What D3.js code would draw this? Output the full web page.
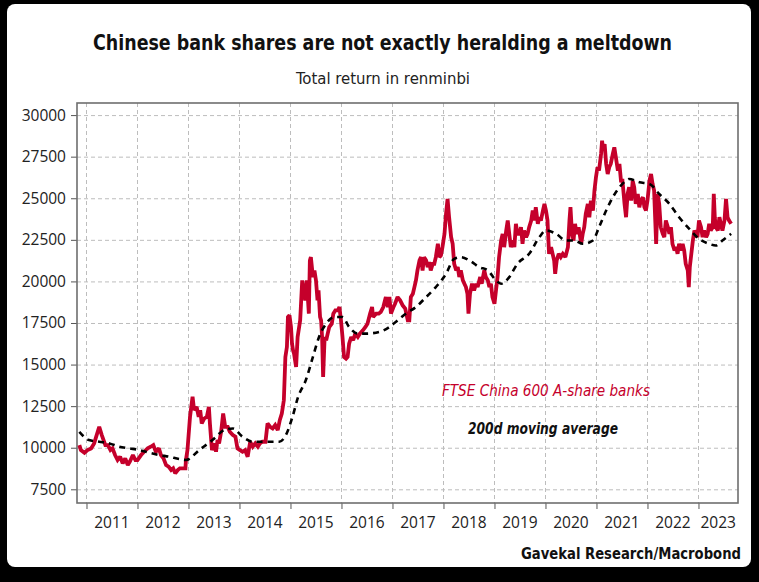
<!DOCTYPE html>
<html><head><meta charset="utf-8">
<script src="https://cdn.jsdelivr.net/npm/d3@7"></script>
<style>body{margin:0;background:#000}svg{display:block}</style>
</head><body>
<svg id="c" width="759" height="582"></svg>
<script>
// ---- data (decimal years, index values) ----
const redYears = [2010.86,2010.89,2010.96,2011.02,2011.09,2011.15,2011.25,2011.30,2011.37,2011.42,2011.47,2011.51,2011.56,2011.61,2011.66,2011.71,2011.76,2011.81,2011.85,2011.91,2011.96,2012.00,2012.07,2012.13,2012.20,2012.26,2012.31,2012.36,2012.42,2012.46,2012.51,2012.56,2012.61,2012.66,2012.70,2012.74,2012.79,2012.83,2012.89,2012.94,2012.95,2012.98,2013.03,2013.08,2013.11,2013.16,2013.20,2013.23,2013.26,2013.31,2013.36,2013.40,2013.42,2013.46,2013.51,2013.54,2013.57,2013.60,2013.64,2013.68,2013.72,2013.77,2013.81,2013.87,2013.92,2013.96,2014.01,2014.06,2014.11,2014.16,2014.21,2014.26,2014.31,2014.36,2014.40,2014.45,2014.51,2014.55,2014.60,2014.65,2014.70,2014.75,2014.79,2014.83,2014.87,2014.90,2014.93,2014.95,2014.98,2015.01,2015.03,2015.05,2015.07,2015.11,2015.14,2015.19,2015.23,2015.25,2015.29,2015.32,2015.36,2015.38,2015.40,2015.44,2015.47,2015.50,2015.53,2015.55,2015.58,2015.60,2015.62,2015.64,2015.67,2015.70,2015.73,2015.76,2015.81,2015.84,2015.88,2015.93,2015.96,2015.99,2016.02,2016.05,2016.09,2016.12,2016.15,2016.19,2016.23,2016.27,2016.32,2016.36,2016.42,2016.47,2016.51,2016.56,2016.60,2016.62,2016.68,2016.73,2016.77,2016.82,2016.87,2016.91,2016.94,2016.97,2017.02,2017.05,2017.10,2017.15,2017.20,2017.25,2017.30,2017.33,2017.36,2017.40,2017.43,2017.46,2017.49,2017.53,2017.56,2017.59,2017.62,2017.66,2017.69,2017.72,2017.75,2017.79,2017.82,2017.85,2017.89,2017.92,2017.95,2017.98,2018.02,2018.05,2018.08,2018.11,2018.15,2018.18,2018.21,2018.25,2018.28,2018.31,2018.34,2018.38,2018.41,2018.44,2018.47,2018.49,2018.52,2018.56,2018.60,2018.64,2018.67,2018.72,2018.75,2018.80,2018.83,2018.87,2018.90,2018.93,2018.96,2019.00,2019.03,2019.06,2019.09,2019.13,2019.16,2019.19,2019.23,2019.26,2019.29,2019.32,2019.36,2019.39,2019.42,2019.45,2019.49,2019.52,2019.55,2019.58,2019.62,2019.65,2019.68,2019.72,2019.75,2019.78,2019.81,2019.85,2019.88,2019.91,2019.95,2019.98,2020.01,2020.04,2020.07,2020.11,2020.14,2020.17,2020.19,2020.22,2020.26,2020.30,2020.34,2020.39,2020.44,2020.47,2020.49,2020.52,2020.55,2020.58,2020.61,2020.65,2020.70,2020.73,2020.76,2020.79,2020.83,2020.86,2020.89,2020.93,2020.96,2020.99,2021.02,2021.05,2021.09,2021.11,2021.13,2021.16,2021.19,2021.22,2021.25,2021.28,2021.32,2021.35,2021.38,2021.42,2021.45,2021.48,2021.51,2021.55,2021.58,2021.61,2021.64,2021.68,2021.71,2021.74,2021.77,2021.81,2021.84,2021.87,2021.91,2021.94,2021.97,2022.00,2022.04,2022.07,2022.10,2022.13,2022.17,2022.20,2022.23,2022.26,2022.30,2022.33,2022.36,2022.40,2022.43,2022.46,2022.49,2022.53,2022.56,2022.59,2022.62,2022.66,2022.69,2022.72,2022.75,2022.79,2022.81,2022.83,2022.86,2022.89,2022.92,2022.95,2022.98,2023.01,2023.05,2023.08,2023.11,2023.15,2023.18,2023.21,2023.24,2023.28,2023.30,2023.32,2023.34,2023.38,2023.41,2023.44,2023.47,2023.51,2023.54,2023.57,2023.60,2023.64];
const redValues = [10160,9860,9700,9860,9960,10260,11260,10760,10160,10160,9860,9960,9560,9260,9460,9060,9360,8960,9160,9560,9260,9260,9560,9760,9960,10060,10160,9760,9960,9560,9360,8960,8860,8660,8760,8460,8660,8760,8760,8760,9260,9860,11860,13060,12260,12460,11860,12260,11460,11760,11860,12460,11460,9860,10260,9760,10460,10260,10960,12060,11260,11260,10960,10760,10660,9960,9860,9760,9860,9460,10360,10060,10260,10060,10260,10360,10360,11460,11260,11160,11360,11060,11660,12060,12860,15460,16060,17860,17960,17260,16260,15860,15660,14860,16660,17660,20060,19660,18860,20060,18060,21260,21460,20260,20660,20060,18860,19460,17860,17660,16660,14260,16660,16460,16860,17260,17460,18060,18260,18260,18460,17660,16660,15460,15360,15460,16260,16660,16460,16860,16660,16860,17060,17260,17460,18060,18460,17860,18060,18060,18160,18460,19060,18460,19060,18060,18460,18660,19060,18860,18560,18360,17660,17660,19060,19260,19660,20060,20660,21260,21460,20660,21460,21260,20860,21160,20660,21060,21060,21460,22260,21460,21560,22060,22860,24060,24960,23860,22660,22260,21060,20660,20860,20260,20660,20060,19860,19660,19260,18060,19260,19860,19460,19860,19660,20260,19860,20660,20260,20060,19660,19860,19060,18660,19460,20260,21460,22460,22860,22060,23060,23660,22860,22060,22460,22060,23460,22860,22860,23260,22260,23060,22660,22860,23260,23660,24260,23660,24460,23460,23860,23660,24260,24660,24260,23660,21660,22060,21660,21260,20460,21260,21660,21460,21660,21460,22060,23660,24460,22860,22460,23460,22860,23260,22260,22860,23260,24060,24660,23860,24860,24260,25460,26260,26860,26660,27660,28460,27860,28260,27060,26460,26860,27060,27660,28060,27460,26660,27060,26060,26060,24660,23860,25260,25660,24860,26060,25660,24660,25260,24460,24860,25060,24460,24260,24860,26060,26460,25860,25460,22260,25260,24660,23260,22860,22660,23660,23260,22860,23260,22260,21860,22060,21660,22260,21860,22260,21860,21060,20660,19660,20860,21660,22460,23060,22860,22660,23660,23260,22660,23060,22660,22860,23460,23060,23260,25260,23860,23260,23060,23860,23460,23060,23660,24960,23860,23660,23460];

const maYears = [2010.86,2011.05,2011.25,2011.45,2011.64,2011.84,2012.04,2012.23,2012.43,2012.62,2012.82,2012.95,2013.21,2013.47,2013.70,2013.87,2014.06,2014.26,2014.52,2014.78,2014.91,2015.04,2015.15,2015.30,2015.44,2015.56,2015.70,2015.86,2016.02,2016.15,2016.32,2016.48,2016.74,2016.94,2017.10,2017.26,2017.46,2017.66,2017.85,2018.05,2018.21,2018.34,2018.51,2018.70,2018.87,2019.03,2019.13,2019.29,2019.45,2019.68,2019.88,2020.01,2020.21,2020.40,2020.56,2020.73,2020.93,2021.05,2021.19,2021.32,2021.45,2021.58,2021.64,2021.84,2022.04,2022.23,2022.43,2022.62,2022.82,2023.01,2023.21,2023.34,2023.47,2023.64];
const maValues = [10960,10460,10360,10260,10060,9960,9860,9700,9560,9460,9320,9260,9860,10460,11060,11160,10660,10360,10360,10360,10760,11860,13060,14060,15460,16660,17460,17860,17860,17260,16860,16860,16960,17260,17660,18060,18460,19060,19660,20460,21360,21460,21260,20860,20660,20060,19860,20260,21060,21660,22660,23060,22860,22460,22460,22260,22460,23260,24260,25060,25660,26060,26160,25960,25860,25260,24660,23860,23160,22560,22260,22160,22460,22860];

const yTicks = [7500,10000,12500,15000,17500,20000,22500,25000,27500,30000];
const yearTicks = [2011,2012,2013,2014,2015,2016,2017,2018,2019,2020,2021,2022,2023];
const yearLabels = ["2011","2012","2013","2014","2015","2016","2017","2018","2019","2020","2021","2022","2023"];
const seriesNames = ["FTSE China 600 A-share banks","200d moving average"];
const titleText = "Chinese bank shares are not exactly heralding a meltdown";
const subtitleText = "Total return in renminbi";
const sourceText = "Gavekal Research/Macrobond";

// ---- layout ----
const svg = d3.select("#c");
const W = 759, H = 582;
const L = 77, R = 738, T = 103, B = 503;
const RED = "#c5002b";
const condFont = "'Liberation Sans Narrow','DejaVu Sans Condensed','Open Sans',sans-serif";
const tickFont = "'Open Sans',sans-serif";

svg.append("rect").attr("width", W).attr("height", H).attr("fill", "#000");
svg.append("rect").attr("x", 7).attr("y", 4).attr("width", 744).attr("height", 563).attr("rx", 8).attr("fill", "#fff");

const x = d3.scaleLinear().domain([2010.814, 2023.775]).range([L, R]);
const y = d3.scaleLinear().domain([6677, 30727]).range([B, T]);

// grid
const grid = svg.append("g").attr("stroke", "#bdbdbd").attr("stroke-width", 1).attr("stroke-dasharray", "4,3");
grid.selectAll("line.h").data(yTicks).join("line").attr("class", "h")
  .attr("x1", L).attr("x2", R).attr("y1", d => y(d) + 0.5).attr("y2", d => y(d) + 0.5);
grid.selectAll("line.v").data(yearTicks).join("line").attr("class", "v")
  .attr("y1", T).attr("y2", B).attr("x1", d => Math.round(x(d)) + 0.5).attr("x2", d => Math.round(x(d)) + 0.5);

// axes
const yAxis = svg.append("g").attr("transform", `translate(${L},0)`)
  .call(d3.axisLeft(y).tickValues(yTicks).tickSize(6).tickPadding(5).tickFormat(d3.format("d")));
yAxis.select(".domain").remove();
yAxis.selectAll("line").attr("stroke", "#555");
yAxis.selectAll("text").attr("font-family", tickFont).attr("font-size", 15.5).attr("fill", "#222");

const xAxis = svg.append("g").attr("transform", `translate(0,${B})`)
  .call(d3.axisBottom(x).tickValues(yearTicks).tickSize(6).tickFormat(""));
xAxis.select(".domain").remove();
xAxis.selectAll("line").attr("stroke", "#555");

// year labels centered within visible part of each year
svg.append("g").selectAll("text").data(yearTicks).join("text")
  .attr("x", (d) => (x(Math.max(d, x.domain()[0])) + x(Math.min(d + 1, x.domain()[1]))) / 2)
  .attr("y", 528)
  .attr("text-anchor", "middle").attr("font-family", tickFont).attr("font-size", 15.5).attr("fill", "#222")
  .text((d, i) => yearLabels[i]);

// frame
svg.append("rect").attr("x", L).attr("y", T).attr("width", R - L).attr("height", B - T)
  .attr("fill", "none").attr("stroke", "#6e6e6e").attr("stroke-width", 1.6);

// series
const redData = redYears.map((t, i) => [t, redValues[i]]);
const maData = maYears.map((t, i) => [t, maValues[i]]);
svg.append("path").datum(redData)
  .attr("d", d3.line().x(d => x(d[0])).y(d => y(d[1])))
  .attr("fill", "none").attr("stroke", RED).attr("stroke-width", 3.8).attr("stroke-linejoin", "miter").attr("stroke-miterlimit", 2);
svg.append("path").datum(maData)
  .attr("d", d3.line().curve(d3.curveMonotoneX).x(d => x(d[0])).y(d => y(d[1])))
  .attr("fill", "none").attr("stroke", "#000").attr("stroke-width", 2.6).attr("stroke-dasharray", "6,5");

// titles
svg.append("text").attr("x", 93).attr("y", 50).attr("font-family", condFont).attr("font-weight", "bold")
  .attr("font-size", 22).attr("fill", "#111").attr("textLength", 579).attr("lengthAdjust", "spacingAndGlyphs").text(titleText);
svg.append("text").attr("x", 296).attr("y", 84).attr("font-family", condFont)
  .attr("font-size", 16).attr("fill", "#222").attr("textLength", 174).attr("lengthAdjust", "spacingAndGlyphs").text(subtitleText);

// legend labels
svg.append("text").attr("x", 442).attr("y", 396).attr("font-family", condFont).attr("font-style", "italic")
  .attr("font-size", 16).attr("fill", RED).attr("textLength", 208).attr("lengthAdjust", "spacingAndGlyphs").text(seriesNames[0]);
svg.append("text").attr("x", 468).attr("y", 434).attr("font-family", condFont).attr("font-style", "italic").attr("font-weight", "bold")
  .attr("font-size", 16).attr("fill", "#111").attr("textLength", 150).attr("lengthAdjust", "spacingAndGlyphs").text(seriesNames[1]);

// source
svg.append("text").attr("x", 521).attr("y", 559).attr("font-family", condFont).attr("font-weight", "bold")
  .attr("font-size", 15).attr("fill", "#111").attr("textLength", 220).attr("lengthAdjust", "spacingAndGlyphs").text(sourceText);
</script>
</body></html>
